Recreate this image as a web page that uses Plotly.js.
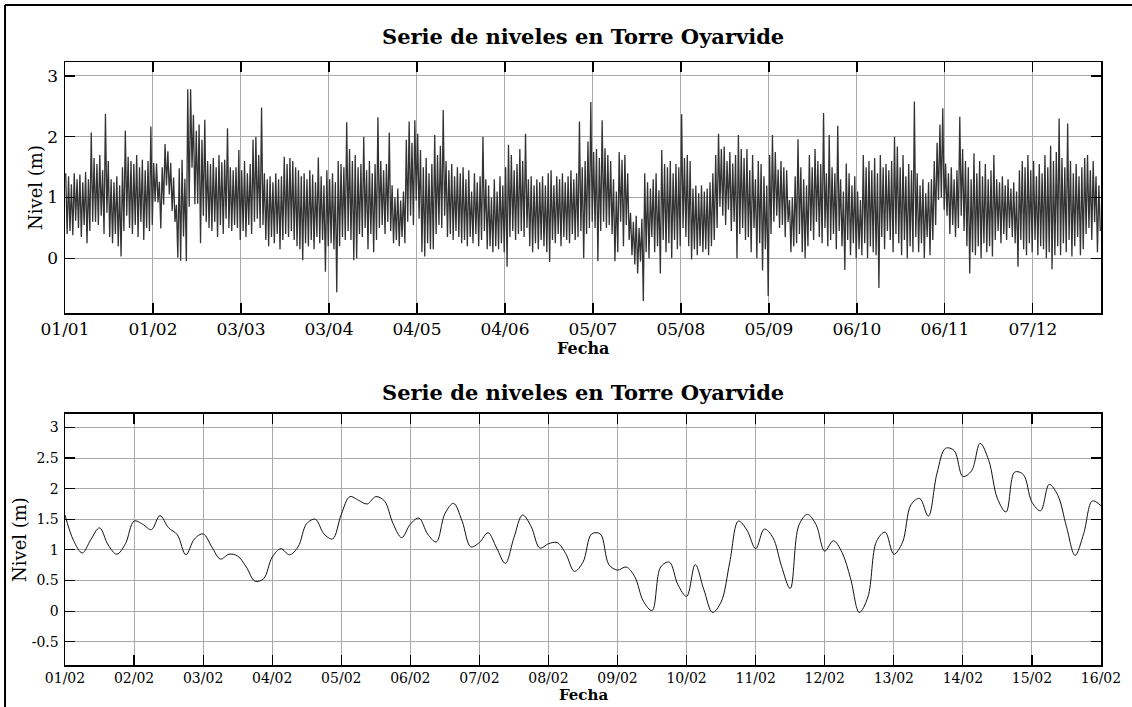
<!DOCTYPE html>
<html>
<head>
<meta charset="utf-8">
<script src="https://cdn.plot.ly/plotly-3.0.1.min.js"></script>
<style>
  html, body { margin: 0; padding: 0; background: #ffffff; }
  #chart { width: 1132px; height: 707px; }
</style>
</head>
<body>
<div id="chart"></div>
<script>
// ---------- DATA ----------
// Top panel: daily high / low water level (m) read from the yearly series, day 0 = 01/01
const dailyHigh = [
  1.40,1.35,1.22,1.40,1.30,1.38,1.25,1.42,1.30,2.07,
  1.65,1.55,1.70,1.45,2.38,1.60,1.30,1.25,1.35,1.20,
  1.50,2.10,1.67,1.60,1.55,1.70,1.50,1.62,1.45,1.60,
  2.17,1.57,1.56,1.26,1.50,1.88,1.76,1.57,1.33,0.88,
  1.48,1.62,1.31,2.78,2.78,2.36,2.10,2.20,1.95,2.28,
  1.60,1.55,1.65,1.50,1.70,1.58,1.62,2.14,1.50,1.45,
  1.50,1.78,1.45,1.60,1.40,1.55,1.95,2.00,1.70,2.48,
  1.40,1.30,1.35,1.25,1.40,1.30,1.35,1.67,1.55,1.65,
  1.60,1.50,1.45,1.35,1.40,1.30,1.45,1.38,1.25,1.66,
  1.35,1.20,1.45,1.30,1.40,1.25,1.60,1.55,1.50,2.24,
  1.80,1.60,1.70,1.50,1.55,2.00,1.45,1.60,1.40,1.55,
  2.32,1.60,1.45,1.55,2.07,1.20,1.00,1.15,0.95,1.10,
  1.95,2.25,1.90,2.27,2.05,1.78,1.50,1.65,1.40,1.55,
  2.03,1.70,1.85,2.44,1.60,1.45,1.55,1.35,1.50,1.40,
  1.50,1.30,1.45,1.10,1.40,1.25,1.35,2.00,1.30,1.20,
  1.00,1.30,1.10,1.35,1.20,1.50,1.87,1.70,1.45,1.55,
  1.80,1.60,2.05,1.30,1.35,1.20,1.30,1.25,1.35,1.20,
  1.40,1.45,1.20,1.35,1.30,1.40,1.25,1.35,1.45,1.30,
  1.40,2.25,1.50,1.60,1.92,2.57,1.75,1.80,1.65,2.27,
  1.81,1.70,1.60,1.30,1.10,1.75,1.62,1.70,1.40,0.75,
  0.60,0.70,0.50,0.65,1.40,1.25,1.15,1.30,1.40,1.12,
  1.78,1.55,1.50,1.60,1.40,1.55,1.50,2.37,1.65,1.70,
  1.60,1.15,1.20,1.07,1.20,1.10,1.15,1.25,1.40,1.70,
  2.05,1.80,1.84,1.60,1.75,1.56,1.70,2.03,1.80,1.65,
  1.80,1.45,1.70,1.30,1.60,1.55,1.35,1.20,1.70,2.03,
  1.75,1.46,1.60,1.50,1.45,0.96,1.00,1.35,1.96,1.50,
  1.30,1.20,1.70,1.50,1.80,1.60,1.55,2.39,1.40,2.03,
  1.50,1.40,2.18,1.30,1.10,1.56,1.40,1.20,1.35,1.10,
  0.96,1.70,1.50,1.60,1.45,1.65,1.40,1.70,1.50,1.55,
  1.45,1.60,2.00,1.84,1.50,1.70,1.35,1.55,1.45,2.58,
  1.40,1.20,1.30,1.07,1.25,1.30,1.60,1.90,2.20,2.47,
  1.56,1.40,1.50,1.30,1.45,2.33,1.80,1.60,1.50,1.30,
  1.73,1.40,1.60,1.35,1.55,1.30,1.45,1.70,1.30,1.25,
  1.35,1.20,1.30,1.15,1.25,1.10,1.45,1.60,1.50,1.70,
  1.45,1.60,1.35,1.55,1.40,1.70,1.50,1.85,1.60,1.75,
  2.30,1.65,1.50,2.22,1.60,1.40,1.55,1.35,1.50,1.65,
  1.70,1.45,1.60,1.35,1.20
];
const dailyLow = [
  0.40,0.45,0.38,0.62,0.50,0.35,0.55,0.25,0.45,0.60,
  0.60,0.55,0.70,0.40,0.75,0.35,0.25,0.40,0.20,0.03,
  0.45,0.70,0.50,0.40,0.55,0.35,0.60,0.30,0.50,0.45,
  0.55,0.93,0.92,0.49,0.88,1.20,1.05,0.78,0.60,0.01,
  -0.04,0.36,-0.05,0.85,1.49,0.89,0.90,0.25,0.70,0.60,
  0.50,0.45,0.60,0.35,0.55,0.40,0.65,0.50,0.45,0.55,
  0.50,0.30,0.45,0.35,0.55,0.40,0.60,0.65,0.50,0.55,
  0.30,0.20,0.35,0.25,0.40,0.15,0.30,0.40,0.35,0.45,
  0.30,0.20,0.15,-0.03,0.25,0.20,0.30,0.15,0.35,0.25,
  0.30,-0.22,0.20,0.25,0.15,-0.56,0.20,0.35,0.30,0.45,
  0.30,-0.03,0.00,0.40,0.35,0.50,0.15,0.40,0.10,0.30,
  0.50,0.55,0.40,0.60,0.45,0.25,0.30,0.20,0.35,0.25,
  0.60,0.70,0.55,0.95,0.65,0.10,0.03,0.25,0.15,0.15,
  0.40,0.55,0.50,0.70,0.35,0.40,0.30,0.45,0.35,0.25,
  0.30,0.20,0.35,0.25,0.40,0.20,0.30,0.45,0.15,0.20,
  0.10,0.20,0.15,0.25,0.10,-0.14,0.35,0.45,0.30,0.40,
  0.45,0.35,0.50,0.20,0.10,0.25,0.15,0.30,0.20,0.10,
  -0.06,0.30,0.25,0.40,0.20,0.35,0.30,0.25,0.40,0.30,
  0.35,0.45,0.00,0.40,0.50,0.60,0.50,-0.05,0.45,0.60,
  0.50,0.55,0.40,-0.05,0.10,0.60,0.20,0.55,0.30,0.05,
  -0.10,-0.25,-0.05,-0.70,0.10,0.00,0.35,0.10,0.20,-0.25,
  0.30,0.10,0.25,0.00,0.30,0.15,0.20,0.50,0.35,0.20,
  -0.02,0.15,0.05,0.20,0.10,0.15,0.05,0.20,0.30,0.50,
  0.85,0.70,0.55,0.80,0.45,0.60,0.00,0.40,0.50,0.30,
  0.35,0.10,0.50,0.00,0.25,-0.20,0.15,-0.62,0.40,0.60,
  0.70,0.50,0.55,0.35,0.60,0.10,0.20,0.25,0.40,0.10,
  0.00,0.20,0.45,0.30,0.60,0.35,0.25,0.50,0.20,0.30,
  0.40,0.15,0.45,0.20,-0.19,0.30,0.05,0.25,0.00,0.15,
  0.05,0.25,0.00,0.20,0.10,0.05,-0.49,0.35,0.15,0.45,
  0.30,0.10,0.40,0.25,0.05,0.30,0.00,0.20,0.10,0.35,
  0.10,0.25,0.00,0.35,0.05,0.30,0.55,0.96,1.00,0.80,
  0.70,0.40,0.55,0.35,0.50,0.70,0.45,0.20,-0.25,0.10,
  0.05,0.20,0.00,0.25,0.10,0.20,0.03,0.30,0.45,0.25,
  0.40,0.30,0.50,0.35,0.25,-0.14,0.30,0.15,0.05,0.25,
  0.10,0.30,0.05,0.20,0.15,0.00,0.10,-0.18,0.05,0.20,
  0.05,0.25,0.10,0.30,0.03,0.20,0.35,0.05,0.15,0.40,
  0.50,0.30,0.60,0.10,0.45
];
const yearStart = '2016-01-01';
const yearEnd = '2016-12-31';
const yearTickDates = ['2016-01-01','2016-02-01','2016-03-03','2016-04-03','2016-05-04','2016-06-04',
                       '2016-07-05','2016-08-05','2016-09-05','2016-10-06','2016-11-06','2016-12-07'];
const yearTickLabels = ['01/01','01/02','03/03','03/04','04/05','04/06','05/07','05/08','05/09','06/10','06/11','07/12'];
const yearLevelTicks = [0, 1, 2, 3];
const yearLevelLabels = ['0', '1', '2', '3'];

// Bottom panel: water level (m) every 3 hours from 01/02 00:00 to 16/02 00:00
const febStart = '2016-02-01';
const febEnd = '2016-02-16';
const febStepHours = 3;
const febLevel = [
  1.57,1.15,0.95,1.17,1.36,1.08,0.93,1.10,
  1.47,1.42,1.33,1.56,1.36,1.25,0.92,1.18,
  1.26,1.05,0.85,0.93,0.90,0.72,0.49,0.53,
  0.88,1.02,0.92,1.05,1.43,1.50,1.26,1.18,
  1.58,1.87,1.81,1.75,1.87,1.80,1.43,1.20,
  1.42,1.52,1.26,1.13,1.59,1.76,1.47,1.05,
  1.12,1.28,1.03,0.78,1.20,1.57,1.38,1.03,
  1.10,1.12,0.94,0.65,0.80,1.26,1.26,0.76,
  0.67,0.72,0.56,0.16,0.01,0.72,0.80,0.43,
  0.24,0.76,0.35,-0.02,0.15,0.80,1.47,1.32,
  1.02,1.34,1.20,0.73,0.37,1.40,1.58,1.41,
  0.98,1.15,0.96,0.53,-0.02,0.23,1.14,1.29,
  0.93,1.12,1.74,1.84,1.55,2.25,2.66,2.62,
  2.20,2.29,2.74,2.46,1.84,1.62,2.27,2.23,
  1.78,1.64,2.07,1.89,1.38,0.91,1.27,1.80,
  1.72
];
const febTickDates = ['2016-02-01','2016-02-02','2016-02-03','2016-02-04','2016-02-05','2016-02-06','2016-02-07','2016-02-08',
                      '2016-02-09','2016-02-10','2016-02-11','2016-02-12','2016-02-13','2016-02-14','2016-02-15','2016-02-16'];
const febTickLabels = ['01/02','02/02','03/02','04/02','05/02','06/02','07/02','08/02',
                       '09/02','10/02','11/02','12/02','13/02','14/02','15/02','16/02'];
const febLevelTicks = [-0.5, 0, 0.5, 1, 1.5, 2, 2.5, 3];
const febLevelLabels = ['-0.5', '0', '0.5', '1', '1.5', '2', '2.5', '3'];

const chartTitle = 'Serie de niveles en Torre Oyarvide';
const xTitle = 'Fecha';
const yTitle = 'Nivel (m)';

// ---------- BUILD TRACES ----------
const DAY = 86400000;
const t0 = Date.parse(yearStart + 'T00:00:00Z');
const yearX = [], yearY = [];
for (let d = 0; d < dailyHigh.length; d++) {
  yearX.push(new Date(t0 + (d + 0.25) * DAY).toISOString());
  yearY.push(dailyHigh[d]);
  yearX.push(new Date(t0 + (d + 0.75) * DAY).toISOString());
  yearY.push(dailyLow[d]);
}
const f0 = Date.parse(febStart + 'T00:00:00Z');
const febX = febLevel.map((_, i) => new Date(f0 + i * febStepHours * 3600000).toISOString());

const FONT = 'DejaVu Serif, Liberation Serif, serif';

const traces = [
  { x: yearX, y: yearY, xaxis: 'x', yaxis: 'y', type: 'scatter', mode: 'lines',
    line: { color: '#333333', width: 1.3 }, hoverinfo: 'x+y', showlegend: false },
  { x: febX, y: febLevel, xaxis: 'x2', yaxis: 'y2', type: 'scatter', mode: 'lines',
    line: { color: '#111111', width: 1, shape: 'spline', smoothing: 1 }, hoverinfo: 'x+y', showlegend: false }
];

const axisCommon = {
  showline: true, linecolor: '#000', linewidth: 1.5, mirror: 'ticks',
  ticks: 'inside', ticklen: 10, tickwidth: 1.2, tickcolor: '#000',
  showgrid: true, gridcolor: '#a9a9a9', gridwidth: 1,
  zeroline: false, fixedrange: true
};

function titleNote(text, x, y, size, bold, angle, yanchor) {
  return { text: bold ? '<b>' + text + '</b>' : text, xref: 'paper', yref: 'paper', x: x, y: y,
    xanchor: 'center', yanchor: yanchor || 'middle', showarrow: false, textangle: angle || 0,
    borderpad: 0, font: { family: FONT, size: size, color: '#000' } };
}

const layout = {
  width: 1132, height: 707,
  margin: { l: 65, r: 31, t: 62, b: 42, pad: 0 },
  paper_bgcolor: '#ffffff', plot_bgcolor: '#ffffff',
  font: { family: FONT, color: '#000' },
  showlegend: false,
  xaxis: Object.assign({}, axisCommon, {
    type: 'date', anchor: 'y', domain: [0, 1],
    range: [yearStart, yearEnd],
    tickmode: 'array', tickvals: yearTickDates, ticktext: yearTickLabels,
    tickfont: { family: FONT, size: 17, color: '#000' }, ticklabelstandoff: 0
  }),
  yaxis: Object.assign({}, axisCommon, {
    anchor: 'x', domain: [0.5837, 1],
    range: [-0.9, 3.23],
    tickmode: 'array', tickvals: yearLevelTicks, ticktext: yearLevelLabels,
    tickfont: { family: FONT, size: 17, color: '#000' }, ticklabelstandoff: 2
  }),
  xaxis2: Object.assign({}, axisCommon, {
    type: 'date', anchor: 'y2', domain: [0, 1],
    range: [febStart, febEnd],
    tickmode: 'array', tickvals: febTickDates, ticktext: febTickLabels,
    tickfont: { family: FONT, size: 14, color: '#000' }, ticklabelstandoff: 0
  }),
  yaxis2: Object.assign({}, axisCommon, {
    anchor: 'x2', domain: [0, 0.4163],
    range: [-0.88, 3.22],
    tickmode: 'array', tickvals: febLevelTicks, ticktext: febLevelLabels,
    tickfont: { family: FONT, size: 14, color: '#000' }, ticklabelstandoff: 2
  }),
  annotations: [
    titleNote(chartTitle, 0.5, 1.0415, 21, true),
    titleNote(chartTitle, 0.5, 0.4527, 21, true),
    titleNote(xTitle, 0.5, 0.5257, 16, true),
    titleNote(xTitle, 0.5, -0.0663, 15, true, 0, 'bottom'),
    titleNote(yTitle, -0.029, 0.7927, 18, false, -90),
    titleNote(yTitle, -0.0434, 0.2073, 18, false, -90)
  ],
  shapes: [
    { type: 'line', xref: 'paper', yref: 'paper', x0: -0.0579, x1: -0.0579, y0: -0.08, y1: 1.0945,
      line: { color: '#000', width: 2 } },
    { type: 'line', xref: 'paper', yref: 'paper', x0: -0.0579, x1: 1.03, y0: 1.0945, y1: 1.0945,
      line: { color: '#000', width: 2 } }
  ]
};

Plotly.newPlot('chart', traces, layout, { displayModeBar: false, staticPlot: true });
</script>
</body>
</html>
